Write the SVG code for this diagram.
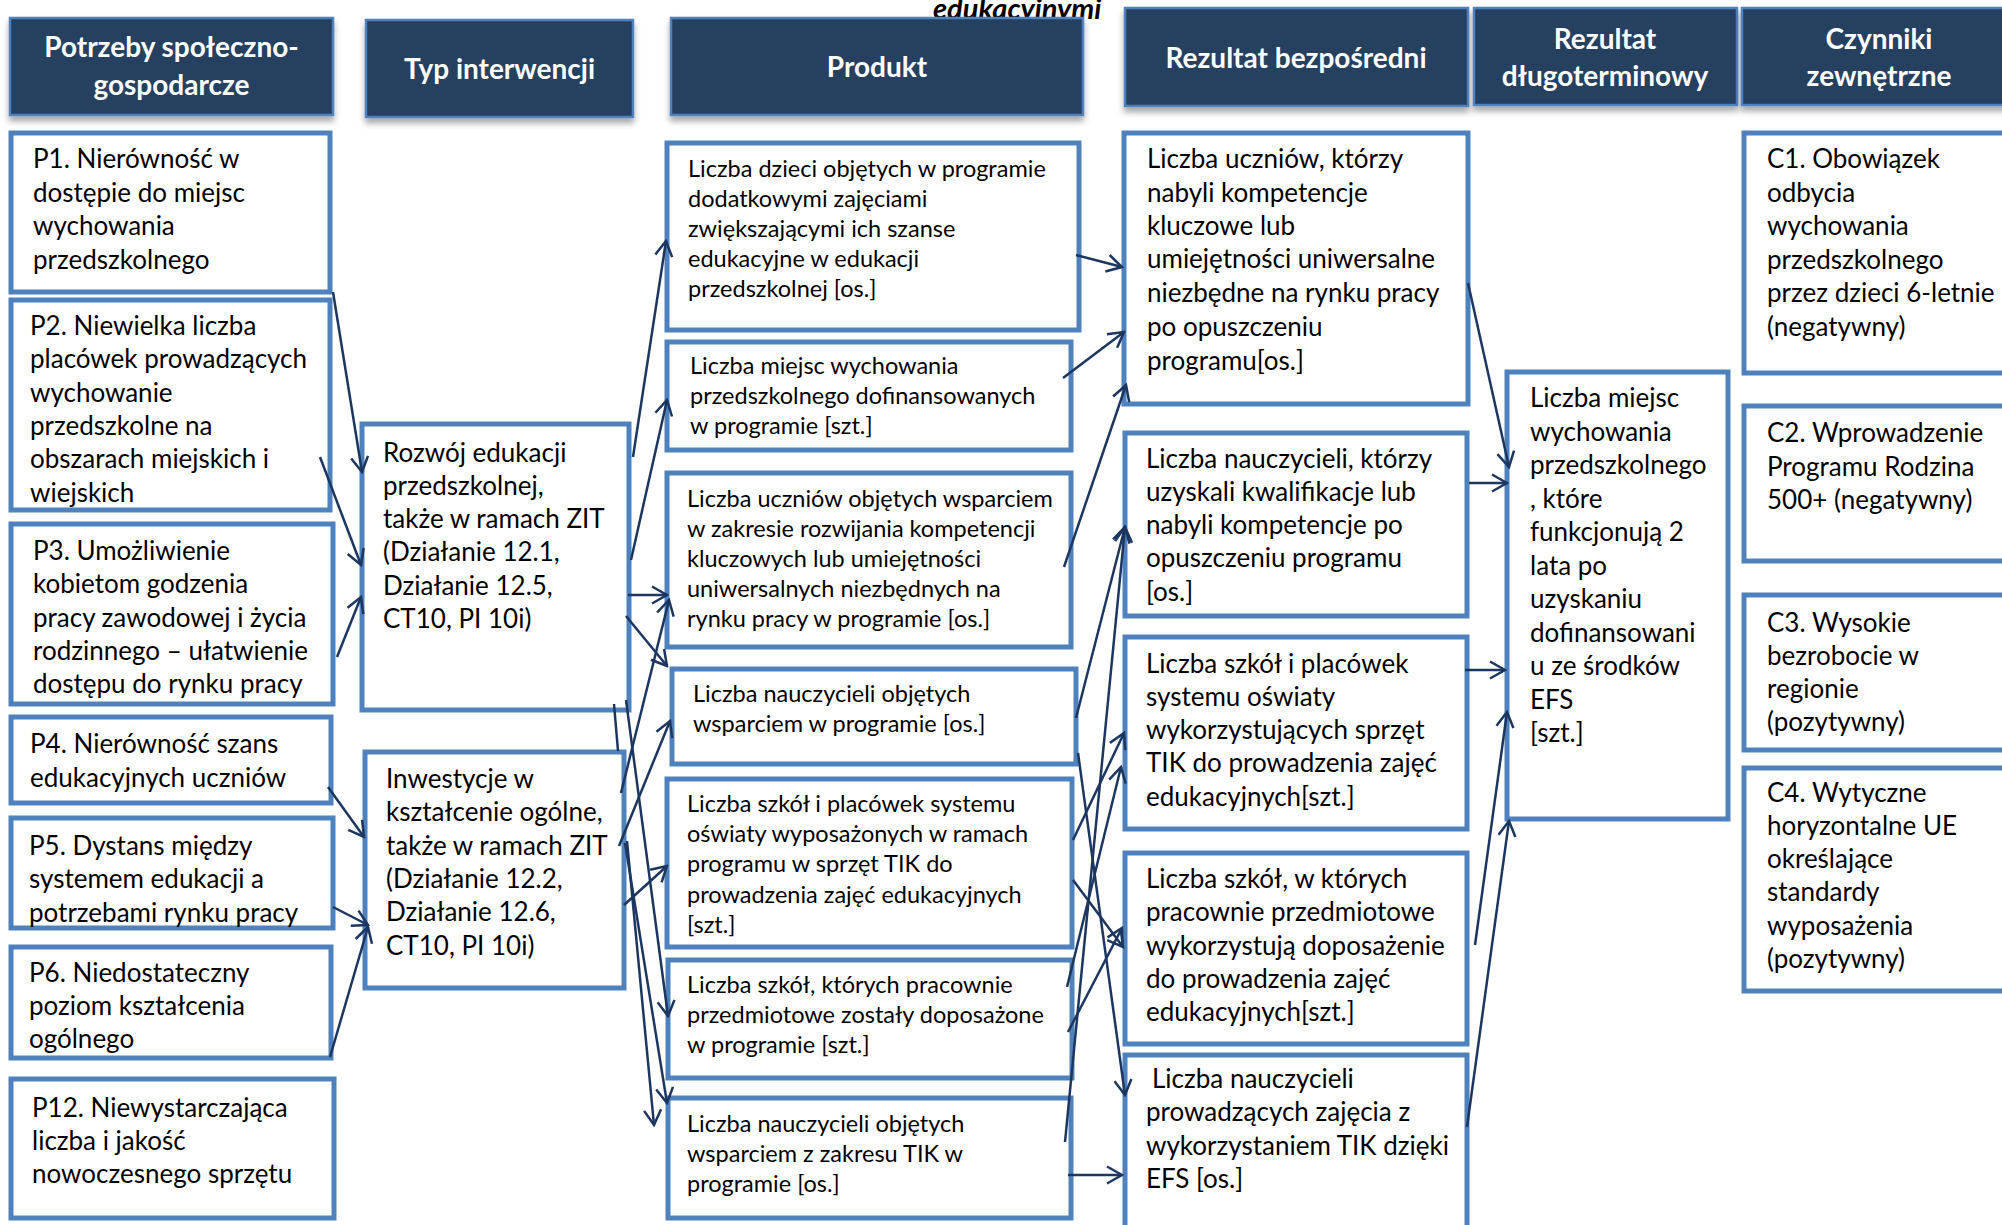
<svg xmlns="http://www.w3.org/2000/svg" width="2002" height="1225" viewBox="0 0 2002 1225">
<defs>
<style>
.hdr rect{fill:#27405f;stroke:#4f81bd;stroke-width:2.5;filter:url(#sh)}
.hdr text{font-family:Lato,"Open Sans",sans-serif;font-weight:700;font-size:28px;fill:#fff;text-anchor:middle}
.box rect{fill:#fff;stroke:#4f81bd;stroke-width:5}
.box text{font-family:Lato,"Open Sans",sans-serif;font-size:26px;fill:#000}
.prod text{font-size:23.5px}
#connectors path{fill:none;stroke:#1c3660;stroke-width:2.5;marker-end:url(#arr)}
.top{font-family:Lato,"Open Sans",sans-serif;font-weight:700;font-style:italic;font-size:29px;fill:#000}
</style>
<marker id="arr" viewBox="-18 -11 20 22" refX="0" refY="0" markerWidth="20" markerHeight="22" markerUnits="userSpaceOnUse" orient="auto">
<path d="M-15,-8.5 L0,0 L-15,8.5" fill="none" stroke="#1c3660" stroke-width="2.5"/>
</marker>
<filter id="sh" x="-10%" y="-10%" width="120%" height="140%">
<feDropShadow dx="0" dy="5" stdDeviation="3" flood-color="#000" flood-opacity="0.35"/>
</filter>
</defs>
<rect width="2002" height="1225" fill="#fff"/>

<text class="top" x="933" y="19">edukacyjnymi</text>
<g id="headers">
<g id="h1" class="hdr"><rect x="10" y="18" width="323" height="97"/><text x="171.5" y="57">Potrzeby społeczno-</text><text x="171.5" y="95">gospodarcze</text></g>
<g id="h2" class="hdr"><rect x="366" y="20" width="267" height="97"/><text x="499.5" y="79">Typ interwencji</text></g>
<g id="h3" class="hdr"><rect x="671" y="18" width="412" height="97"/><text x="877" y="77">Produkt</text></g>
<g id="h4" class="hdr"><rect x="1125" y="8" width="343" height="98"/><text x="1296" y="68">Rezultat bezpośredni</text></g>
<g id="h5" class="hdr"><rect x="1474" y="8" width="263" height="97"/><text x="1605" y="49">Rezultat</text><text x="1605" y="86">długoterminowy</text></g>
<g id="h6" class="hdr"><rect x="1742" y="8" width="274" height="97"/><text x="1879" y="49">Czynniki</text><text x="1879" y="86">zewnętrzne</text></g>
</g>

<g id="p1" class="box"><rect x="11" y="133" width="319" height="159"/><text><tspan x="33" y="168">P1. Nierówność w</tspan><tspan x="33" y="201.5">dostępie do miejsc</tspan><tspan x="33" y="235">wychowania</tspan><tspan x="33" y="268.5">przedszkolnego</tspan></text></g>
<g id="p2" class="box"><rect x="11" y="300" width="319" height="210"/><text><tspan x="30" y="335">P2. Niewielka liczba</tspan><tspan x="30" y="368">placówek prowadzących</tspan><tspan x="30" y="401.5">wychowanie</tspan><tspan x="30" y="435">przedszkolne na</tspan><tspan x="30" y="468">obszarach miejskich i</tspan><tspan x="30" y="501.5">wiejskich</tspan></text></g>
<g id="p3" class="box"><rect x="11" y="524" width="322" height="180"/><text><tspan x="33" y="560">P3. Umożliwienie</tspan><tspan x="33" y="593">kobietom godzenia</tspan><tspan x="33" y="627">pracy zawodowej i życia</tspan><tspan x="33" y="660">rodzinnego – ułatwienie</tspan><tspan x="33" y="693">dostępu do rynku pracy</tspan></text></g>
<g id="p4" class="box"><rect x="11" y="717" width="320" height="86"/><text><tspan x="30" y="753">P4. Nierówność szans</tspan><tspan x="30" y="787">edukacyjnych uczniów</tspan></text></g>
<g id="p5" class="box"><rect x="11" y="818" width="322" height="110"/><text><tspan x="29" y="855">P5. Dystans między</tspan><tspan x="29" y="888">systemem edukacji a</tspan><tspan x="29" y="922">potrzebami rynku pracy</tspan></text></g>
<g id="p6" class="box"><rect x="11" y="947" width="320" height="111"/><text><tspan x="29" y="982">P6. Niedostateczny</tspan><tspan x="29" y="1015">poziom kształcenia</tspan><tspan x="29" y="1048">ogólnego</tspan></text></g>
<g id="p12" class="box"><rect x="11" y="1079" width="323" height="139"/><text><tspan x="32" y="1117">P12. Niewystarczająca</tspan><tspan x="32" y="1150">liczba i jakość</tspan><tspan x="32" y="1183">nowoczesnego sprzętu</tspan></text></g>

<g id="t1" class="box"><rect x="362" y="424" width="267" height="286"/><text><tspan x="383" y="462">Rozwój edukacji</tspan><tspan x="383" y="495">przedszkolnej,</tspan><tspan x="383" y="528">także w ramach ZIT</tspan><tspan x="383" y="561">(Działanie 12.1,</tspan><tspan x="383" y="595">Działanie 12.5,</tspan><tspan x="383" y="628">CT10, PI 10i)</tspan></text></g>
<g id="t2" class="box"><rect x="365" y="752" width="259" height="236"/><text><tspan x="386" y="788">Inwestycje w</tspan><tspan x="386" y="821">kształcenie ogólne,</tspan><tspan x="386" y="855">także w ramach ZIT</tspan><tspan x="386" y="888">(Działanie 12.2,</tspan><tspan x="386" y="921">Działanie 12.6,</tspan><tspan x="386" y="955">CT10, PI 10i)</tspan></text></g>

<g id="pr1" class="box prod"><rect x="667" y="143" width="412" height="187"/><text><tspan x="688" y="177">Liczba dzieci objętych w programie</tspan><tspan x="688" y="207">dodatkowymi zajęciami</tspan><tspan x="688" y="237">zwiększającymi ich szanse</tspan><tspan x="688" y="267">edukacyjne w edukacji</tspan><tspan x="688" y="297">przedszkolnej [os.]</tspan></text></g>
<g id="pr2" class="box prod"><rect x="667" y="342" width="404" height="108"/><text><tspan x="690" y="374">Liczba miejsc wychowania</tspan><tspan x="690" y="404">przedszkolnego dofinansowanych</tspan><tspan x="690" y="434">w programie [szt.]</tspan></text></g>
<g id="pr3" class="box prod"><rect x="667" y="473" width="404" height="174"/><text><tspan x="687" y="507">Liczba uczniów objętych wsparciem</tspan><tspan x="687" y="537">w zakresie rozwijania kompetencji</tspan><tspan x="687" y="567">kluczowych lub umiejętności</tspan><tspan x="687" y="597">uniwersalnych niezbędnych na</tspan><tspan x="687" y="627">rynku pracy w programie [os.]</tspan></text></g>
<g id="pr4" class="box prod"><rect x="672" y="669" width="404" height="95"/><text><tspan x="693" y="702">Liczba nauczycieli objętych</tspan><tspan x="693" y="732">wsparciem w programie [os.]</tspan></text></g>
<g id="pr5" class="box prod"><rect x="667" y="779" width="405" height="168"/><text><tspan x="687" y="812">Liczba szkół i placówek systemu</tspan><tspan x="687" y="842">oświaty wyposażonych w ramach</tspan><tspan x="687" y="872">programu w sprzęt TIK do</tspan><tspan x="687" y="903">prowadzenia zajęć edukacyjnych</tspan><tspan x="687" y="933">[szt.]</tspan></text></g>
<g id="pr6" class="box prod"><rect x="668" y="960" width="404" height="118"/><text><tspan x="687" y="993">Liczba szkół, których pracownie</tspan><tspan x="687" y="1023">przedmiotowe zostały doposażone</tspan><tspan x="687" y="1053">w programie [szt.]</tspan></text></g>
<g id="pr7" class="box prod"><rect x="668" y="1098" width="403" height="120"/><text><tspan x="687" y="1132">Liczba nauczycieli objętych</tspan><tspan x="687" y="1162">wsparciem z zakresu TIK  w</tspan><tspan x="687" y="1192">programie [os.]</tspan></text></g>

<g id="r1" class="box"><rect x="1124" y="133" width="344" height="271"/><text><tspan x="1147" y="168">Liczba uczniów, którzy</tspan><tspan x="1147" y="202">nabyli kompetencje</tspan><tspan x="1147" y="235">kluczowe  lub</tspan><tspan x="1147" y="268">umiejętności uniwersalne</tspan><tspan x="1147" y="302">niezbędne na rynku pracy</tspan><tspan x="1147" y="336">po opuszczeniu</tspan><tspan x="1147" y="370">programu[os.]</tspan></text></g>
<g id="r2" class="box"><rect x="1125" y="433" width="342" height="183"/><text><tspan x="1146" y="468">Liczba nauczycieli, którzy</tspan><tspan x="1146" y="501">uzyskali kwalifikacje lub</tspan><tspan x="1146" y="534">nabyli kompetencje po</tspan><tspan x="1146" y="567">opuszczeniu programu</tspan><tspan x="1146" y="601">[os.]</tspan></text></g>
<g id="r3" class="box"><rect x="1125" y="637" width="342" height="192"/><text><tspan x="1146" y="673">Liczba szkół i placówek</tspan><tspan x="1146" y="706">systemu oświaty</tspan><tspan x="1146" y="739">wykorzystujących sprzęt</tspan><tspan x="1146" y="772">TIK do prowadzenia zajęć</tspan><tspan x="1146" y="806">edukacyjnych[szt.]</tspan></text></g>
<g id="r4" class="box"><rect x="1125" y="853" width="342" height="191"/><text><tspan x="1146" y="888">Liczba szkół, w których</tspan><tspan x="1146" y="921">pracownie przedmiotowe</tspan><tspan x="1146" y="955">wykorzystują doposażenie</tspan><tspan x="1146" y="988">do prowadzenia zajęć</tspan><tspan x="1146" y="1021">edukacyjnych[szt.]</tspan></text></g>
<g id="r5" class="box"><rect x="1125" y="1055" width="342" height="200"/><text><tspan x="1152" y="1088">Liczba nauczycieli</tspan><tspan x="1146" y="1121">prowadzących zajęcia z</tspan><tspan x="1146" y="1155">wykorzystaniem TIK dzięki</tspan><tspan x="1146" y="1188">EFS [os.]</tspan></text></g>

<g id="l1" class="box"><rect x="1507" y="372" width="221" height="447"/><text><tspan x="1530" y="407">Liczba miejsc</tspan><tspan x="1530" y="440.5">wychowania</tspan><tspan x="1530" y="474">przedszkolnego</tspan><tspan x="1530" y="507.5">, które</tspan><tspan x="1530" y="541">funkcjonują 2</tspan><tspan x="1530" y="574.5">lata po</tspan><tspan x="1530" y="608">uzyskaniu</tspan><tspan x="1530" y="641.5">dofinansowani</tspan><tspan x="1530" y="675">u ze środków</tspan><tspan x="1530" y="708.5">EFS</tspan><tspan x="1530" y="742">[szt.]</tspan></text></g>

<g id="c1" class="box"><rect x="1744" y="133" width="300" height="240"/><text><tspan x="1767" y="168">C1. Obowiązek</tspan><tspan x="1767" y="202">odbycia</tspan><tspan x="1767" y="235">wychowania</tspan><tspan x="1767" y="269">przedszkolnego</tspan><tspan x="1767" y="302">przez dzieci 6-letnie</tspan><tspan x="1767" y="336">(negatywny)</tspan></text></g>
<g id="c2" class="box"><rect x="1744" y="406" width="300" height="155"/><text><tspan x="1767" y="442">C2. Wprowadzenie</tspan><tspan x="1767" y="476">Programu Rodzina</tspan><tspan x="1767" y="509">500+ (negatywny)</tspan></text></g>
<g id="c3" class="box"><rect x="1744" y="595" width="300" height="155"/><text><tspan x="1767" y="632">C3. Wysokie</tspan><tspan x="1767" y="665">bezrobocie w</tspan><tspan x="1767" y="698">regionie</tspan><tspan x="1767" y="731">(pozytywny)</tspan></text></g>
<g id="c4" class="box"><rect x="1744" y="768" width="300" height="223"/><text><tspan x="1767" y="802">C4. Wytyczne</tspan><tspan x="1767" y="835">horyzontalne UE</tspan><tspan x="1767" y="868">określające</tspan><tspan x="1767" y="901">standardy</tspan><tspan x="1767" y="935">wyposażenia</tspan><tspan x="1767" y="968">(pozytywny)</tspan></text></g>

<g id="connectors">
<path d="M333,292 L362,472"/>
<path d="M320,457 L361,565"/>
<path d="M337,657 L361,597"/>
<path d="M328,787 L364,837"/>
<path d="M333,907 L368,925"/>
<path d="M330,1057 L368,927"/>
<path d="M633,457 L666,241"/>
<path d="M631,560 L667,400"/>
<path d="M628,595 L667,595"/>
<path d="M626,616 L667,666"/>
<path d="M626,700 L668,1016"/>
<path d="M614,704 L618,751 M627,841 L654,1125"/>
<path d="M621,793 L669,600"/>
<path d="M619,846 L670,721"/>
<path d="M624,905 L667,866"/>
<path d="M625,843 L667,1103"/>
<path d="M1076,255 L1122,267"/>
<path d="M1063,378 L1124,332"/>
<path d="M1064,567 L1126,385"/>
<path d="M1076,718 L1125,527"/>
<path d="M1065,1142 L1125,527"/>
<path d="M1073,840 L1124,733"/>
<path d="M1067,987 L1121,767"/>
<path d="M1073,880 L1123,947"/>
<path d="M1068,1032 L1122,928"/>
<path d="M1078,753 L1125,1095"/>
<path d="M1068,1175 L1122,1175"/>
<path d="M1468,283 L1509,467"/>
<path d="M1469,483 L1507,483"/>
<path d="M1465,670 L1505,670"/>
<path d="M1475,945 L1507,712"/>
<path d="M1467,1127 L1509,821"/>
</g>
</svg>
